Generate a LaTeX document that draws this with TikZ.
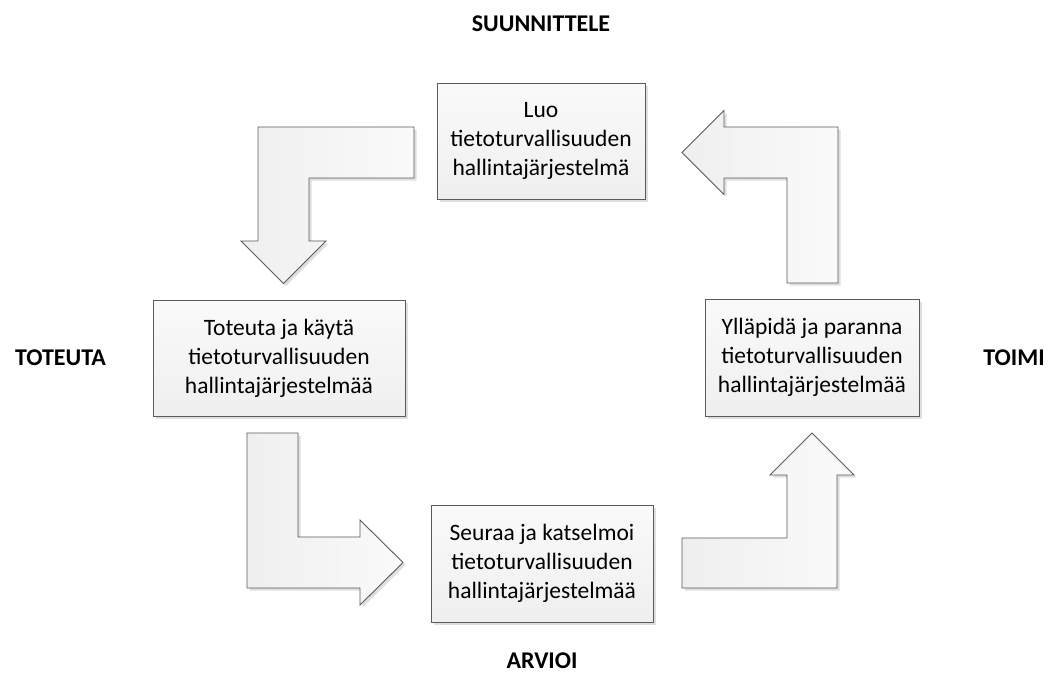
\documentclass[tikz,border=0pt]{standalone}
\usepackage{fontspec}
\setmainfont{Carlito}
\usetikzlibrary{shadows}
\definecolor{edge}{HTML}{5A5A5A}
\definecolor{fillA}{HTML}{EFEFEF}
\definecolor{fillB}{HTML}{FAFAFA}
\tikzset{
  procbox/.style={draw=edge, line width=0.9pt, top color=fillB, bottom color=fillA,
    minimum height=116pt, inner sep=0pt, align=center,
    font=\fontsize{23.5}{29}\selectfont,
    drop shadow={shadow xshift=2.5pt, shadow yshift=-2.5pt, opacity=0.25, fill=black!50}},
  blockarrow/.style={draw=edge, line width=0.9pt, left color=fillA, right color=fillB,
    drop shadow={shadow xshift=2.5pt, shadow yshift=-2.5pt, opacity=0.25, fill=black!50}},
  phase/.style={font=\fontsize{24}{28}\selectfont\bfseries, inner sep=0pt}
}
\begin{document}
\begin{tikzpicture}[x=1pt, y=-1pt]
\useasboundingbox (0,0) rectangle (1055,673);
\fill[white] (0,0) rectangle (1055,673);

% process boxes
\node[procbox, minimum width=208pt] (plan) at (541,141) {Luo\\tietoturvallisuuden\\hallintajärjestelmä};
\node[procbox, minimum width=252pt] (do) at (279,358) {Toteuta ja käytä\\tietoturvallisuuden\\hallintajärjestelmää};
\node[procbox, minimum width=214pt, minimum height=117pt] (act) at (812,357.5) {Ylläpidä ja paranna\\tietoturvallisuuden\\hallintajärjestelmää};
\node[procbox, minimum width=222pt, minimum height=117pt] (check) at (542,563.5) {Seuraa ja katselmoi\\tietoturvallisuuden\\hallintajärjestelmää};

% block arrows
\path[blockarrow] (414,127) -- (258,127) -- (258,241) -- (241,241) -- (283.5,283.5) -- (326,241) -- (309,241) -- (309,178) -- (414,178) -- cycle;
\path[blockarrow] (838,283) -- (838,127) -- (724,127) -- (724,110.5) -- (682,152.5) -- (724,194.5) -- (724,178) -- (787,178) -- (787,283) -- cycle;
\path[blockarrow] (247,433) -- (298,433) -- (298,537) -- (360,537) -- (360,520) -- (403,562.5) -- (360,605) -- (360,588) -- (247,588) -- cycle;
\path[blockarrow] (682,588) -- (682,538) -- (787,538) -- (787,475) -- (770,475) -- (812,433) -- (854,475) -- (837,475) -- (837,588) -- cycle;

% phase labels
\node[phase] (lplan) at (541,24) {SUUNNITTELE};
\node[phase] (ldo) at (60.5,358) {TOTEUTA};
\node[phase] (lact) at (1014,358) {TOIMI};
\node[phase] (lcheck) at (542,661) {ARVIOI};
\end{tikzpicture}
\end{document}
